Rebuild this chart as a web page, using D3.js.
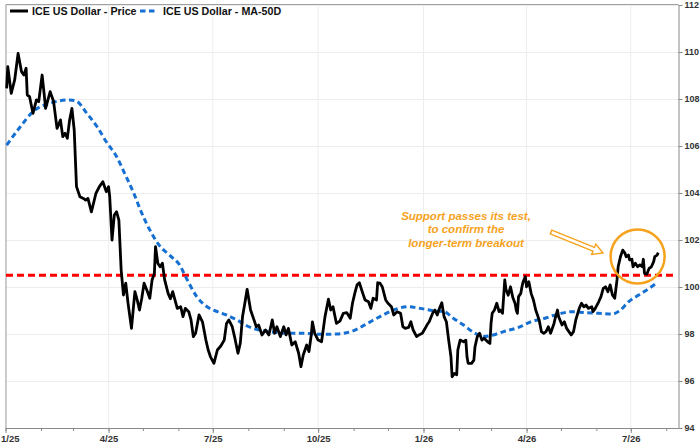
<!DOCTYPE html>
<html><head><meta charset="utf-8">
<script src="https://cdn.jsdelivr.net/npm/d3@7"></script>
<style>body{margin:0;background:#fff}svg{display:block;font-family:"Liberation Sans",Arial,sans-serif}</style>
</head><body><svg id="c" width="700" height="444"></svg>
<script>
const priceDates=["2025-01-02","2025-01-03","2025-01-06","2025-01-09","2025-01-12","2025-01-15","2025-01-17","2025-01-19","2025-01-20","2025-01-22","2025-01-25","2025-01-28","2025-01-30","2025-02-02","2025-02-04","2025-02-05","2025-02-09","2025-02-12","2025-02-15","2025-02-18","2025-02-20","2025-02-22","2025-02-24","2025-02-26","2025-02-28","2025-03-02","2025-03-04","2025-03-07","2025-03-10","2025-03-12","2025-03-14","2025-03-17","2025-03-21","2025-03-24","2025-03-27","2025-03-30","2025-04-01","2025-04-02","2025-04-04","2025-04-06","2025-04-08","2025-04-10","2025-04-12","2025-04-14","2025-04-16","2025-04-18","2025-04-21","2025-04-24","2025-04-26","2025-04-28","2025-04-30","2025-05-02","2025-05-05","2025-05-07","2025-05-09","2025-05-11","2025-05-12","2025-05-14","2025-05-16","2025-05-18","2025-05-20","2025-05-23","2025-05-25","2025-05-27","2025-05-31","2025-06-03","2025-06-05","2025-06-07","2025-06-10","2025-06-12","2025-06-14","2025-06-16","2025-06-19","2025-06-22","2025-06-25","2025-06-27","2025-06-29","2025-07-02","2025-07-05","2025-07-08","2025-07-11","2025-07-13","2025-07-15","2025-07-18","2025-07-20","2025-07-23","2025-07-25","2025-07-27","2025-07-29","2025-07-31","2025-08-03","2025-08-06","2025-08-08","2025-08-10","2025-08-13","2025-08-16","2025-08-19","2025-08-22","2025-08-24","2025-08-26","2025-08-29","2025-09-01","2025-09-03","2025-09-05","2025-09-08","2025-09-11","2025-09-14","2025-09-16","2025-09-18","2025-09-21","2025-09-23","2025-09-25","2025-09-26","2025-09-28","2025-10-01","2025-10-04","2025-10-07","2025-10-10","2025-10-12","2025-10-14","2025-10-17","2025-10-20","2025-10-23","2025-10-26","2025-10-29","2025-10-31","2025-11-02","2025-11-04","2025-11-06","2025-11-09","2025-11-11","2025-11-14","2025-11-16","2025-11-18","2025-11-21","2025-11-22","2025-11-24","2025-11-26","2025-11-29","2025-12-01","2025-12-04","2025-12-06","2025-12-09","2025-12-12","2025-12-14","2025-12-16","2025-12-19","2025-12-21","2025-12-23","2025-12-26","2025-12-28","2025-12-31","2026-01-02","2026-01-04","2026-01-06","2026-01-09","2026-01-11","2026-01-13","2026-01-15","2026-01-17","2026-01-19","2026-01-21","2026-01-23","2026-01-25","2026-01-26","2026-01-28","2026-01-30","2026-01-31","2026-02-02","2026-02-05","2026-02-07","2026-02-08","2026-02-09","2026-02-12","2026-02-14","2026-02-15","2026-02-17","2026-02-19","2026-02-21","2026-02-23","2026-02-26","2026-02-28","2026-03-01","2026-03-02","2026-03-04","2026-03-06","2026-03-08","2026-03-09","2026-03-11","2026-03-13","2026-03-14","2026-03-16","2026-03-18","2026-03-20","2026-03-22","2026-03-23","2026-03-24","2026-03-25","2026-03-27","2026-03-28","2026-03-29","2026-03-31","2026-04-01","2026-04-03","2026-04-05","2026-04-07","2026-04-09","2026-04-12","2026-04-14","2026-04-16","2026-04-18","2026-04-20","2026-04-22","2026-04-25","2026-04-26","2026-04-28","2026-04-29","2026-05-02","2026-05-04","2026-05-06","2026-05-08","2026-05-10","2026-05-12","2026-05-14","2026-05-17","2026-05-19","2026-05-21","2026-05-23","2026-05-25","2026-05-28","2026-05-29","2026-05-31","2026-06-03","2026-06-05","2026-06-07","2026-06-09","2026-06-11","2026-06-13","2026-06-15","2026-06-17","2026-06-19","2026-06-20","2026-06-22","2026-06-24","2026-06-26","2026-06-27","2026-06-29","2026-06-30","2026-07-02","2026-07-03","2026-07-05","2026-07-07","2026-07-09","2026-07-11","2026-07-12","2026-07-13","2026-07-15","2026-07-17","2026-07-19","2026-07-21","2026-07-22","2026-07-24","2026-07-25"];
const priceValues=[108.45,109.38,108.24,108.81,109.94,109.16,109.02,109.31,108.17,108.10,107.39,107.96,107.89,109.02,108.10,107.60,108.31,107.89,106.75,107.11,106.40,106.54,106.33,107.11,107.60,106.68,104.27,103.84,103.77,103.70,103.77,103.20,103.99,104.27,104.48,104.06,104.27,103.84,102.00,103.06,103.20,102.85,100.72,99.66,100.16,99.31,98.24,99.80,99.45,99.02,99.52,100.16,99.80,99.52,100.30,100.58,101.72,101.01,100.86,101.01,100.30,99.73,99.50,99.80,99.09,99.16,98.74,99.09,98.95,98.60,97.89,98.03,98.81,98.52,97.74,97.32,97.03,96.75,97.32,97.49,97.74,98.45,98.60,98.31,97.89,97.18,97.60,98.74,99.31,99.90,99.02,98.60,98.31,98.38,97.96,98.17,97.96,98.60,98.03,98.31,97.89,98.31,97.96,98.24,97.53,97.67,97.18,96.61,97.11,97.53,97.25,97.96,98.52,98.03,97.74,97.67,98.74,99.48,99.02,99.16,98.45,98.55,98.88,98.91,98.67,99.31,99.73,100.09,100.18,99.73,99.45,99.37,99.09,99.52,99.45,100.18,100.16,100.01,99.45,99.31,99.16,98.81,98.95,98.88,98.31,98.24,98.28,98.52,98.17,97.89,97.96,98.03,98.20,98.38,98.52,98.88,99.02,98.81,99.09,99.33,98.74,98.52,97.74,97.03,96.18,96.32,96.26,97.32,97.74,97.67,97.74,97.03,96.75,96.75,96.89,97.46,97.89,98.03,97.74,97.82,97.67,97.60,98.45,98.88,99.02,99.31,98.95,99.02,98.88,100.30,99.90,99.65,100.01,99.55,99.30,99.02,98.88,99.59,99.73,100.01,100.22,100.44,100.01,100.22,99.73,99.45,99.02,98.60,98.10,98.03,98.10,98.31,98.03,98.45,98.67,99.02,98.74,98.38,98.52,98.24,98.10,97.96,98.10,98.60,99.09,99.31,99.16,99.23,99.09,99.16,98.95,99.09,99.37,99.59,99.94,100.01,99.80,100.09,99.66,99.52,100.30,100.86,101.29,101.57,101.43,101.29,101.36,101.15,101.18,100.86,101.01,100.86,100.94,100.86,101.18,100.58,100.54,100.79,100.86,101.08,101.29,101.36,101.46];
const maDates=["2025-01-02","2025-01-14","2025-01-25","2025-02-09","2025-02-26","2025-03-04","2025-03-13","2025-03-22","2025-03-30","2025-04-08","2025-04-15","2025-04-23","2025-04-30","2025-05-07","2025-05-15","2025-05-22","2025-05-29","2025-06-01","2025-06-08","2025-06-17","2025-06-26","2025-07-05","2025-07-13","2025-07-22","2025-07-31","2025-08-08","2025-08-20","2025-09-04","2025-09-18","2025-10-03","2025-10-17","2025-11-01","2025-11-13","2025-11-24","2025-12-06","2025-12-18","2025-12-29","2026-01-10","2026-01-19","2026-01-27","2026-02-05","2026-02-14","2026-02-23","2026-03-03","2026-03-12","2026-03-25","2026-04-05","2026-04-17","2026-04-29","2026-05-11","2026-05-22","2026-06-03","2026-06-15","2026-06-22","2026-06-29","2026-07-08","2026-07-17","2026-07-24"];
const maValues=[106.04,106.82,107.46,107.82,107.96,107.91,107.39,106.82,106.18,105.55,104.84,103.99,103.14,102.43,101.79,101.45,101.15,101.01,100.37,99.59,99.16,98.95,98.81,98.60,98.34,98.20,98.10,98.03,98.03,97.99,98.00,98.14,98.45,98.74,99.02,99.16,99.09,98.99,98.95,98.67,98.38,98.06,97.89,97.96,98.10,98.28,98.52,98.67,98.85,98.95,98.91,98.88,98.85,99.02,99.37,99.66,99.94,100.18];
const yTickValues=[94,96,98,100,102,104,106,108,110,112];
const xTickDates=["2025-01-01","2025-04-01","2025-07-01","2025-10-01","2026-01-01","2026-04-01","2026-07-01"];
const xTickLabels=["1/25","4/25","7/25","10/25","1/26","4/26","7/26"];
const supportLevel=100.5;
const seriesNames=["ICE US Dollar - Price","ICE US Dollar - MA-50D"];
const noteLines=["Support passes its test,","to confirm the","longer-term breakout"];
const focusPoint={date:"2026-07-07",value:101.3};

const parse=d3.utcParse("%Y-%m-%d");
const svg=d3.select("#c");
const L=6,R=680,AX=678.5,T=5,B=428;
const x=d3.scaleUtc().domain([parse("2025-01-01"),parse("2026-08-13")]).range([5.5,R]);
const y=d3.scaleLinear().domain([94,112]).range([B,T]);
const ORANGE="#f6a21c", BLUE="#1670d2";

// gridlines
svg.append("g").selectAll("line").data(yTickValues).join("line")
  .attr("x1",L).attr("x2",AX).attr("y1",d=>y(d)+0.5).attr("y2",d=>y(d)+0.5)
  .attr("stroke","#ededed").attr("stroke-width",1);
svg.append("g").selectAll("line").data(xTickDates).join("line")
  .attr("x1",d=>x(parse(d))).attr("x2",d=>x(parse(d))).attr("y1",T).attr("y2",B)
  .attr("stroke","#ededed").attr("stroke-width",1);

// frame
svg.append("line").attr("x1",L).attr("x2",AX).attr("y1",4.5).attr("y2",4.5).attr("stroke","#a0a0a0");
svg.append("line").attr("x1",L).attr("x2",L).attr("y1",4.5).attr("y2",B).attr("stroke","#a0a0a0");

// axes
const yAxis=svg.append("g").attr("transform",`translate(${AX},0)`)
  .call(d3.axisRight(y).tickValues(yTickValues).tickFormat(d3.format("d")).tickSize(4).tickSizeOuter(0).tickPadding(2));
yAxis.select(".domain").attr("stroke","#8a8a8a");
yAxis.selectAll(".tick line").attr("stroke","#8a8a8a");
yAxis.selectAll("text").attr("font-size",9).attr("font-weight","bold").attr("fill","#333").attr("font-family","Liberation Sans, Arial, sans-serif");

const minor=svg.append("g").attr("transform",`translate(0,${B})`)
  .call(d3.axisBottom(x).tickValues(d3.utcMonth.range(parse("2025-01-01"),parse("2026-08-13"))).tickFormat("").tickSize(3).tickSizeOuter(0));
minor.select(".domain").attr("stroke","#8a8a8a").attr("d",`M${L},0.5H${AX}`);
minor.selectAll(".tick line").attr("stroke","#8a8a8a");
const xAxis=svg.append("g").attr("transform",`translate(0,${B})`)
  .call(d3.axisBottom(x).tickValues(xTickDates.map(parse)).tickFormat((d,i)=>xTickLabels[i]).tickSize(5).tickSizeOuter(0).tickPadding(2));
xAxis.select(".domain").remove();
xAxis.selectAll(".tick line").attr("stroke","#8a8a8a");
xAxis.selectAll("text").attr("font-size",9.5).attr("font-weight","bold").attr("fill","#333").attr("font-family","Liberation Sans, Arial, sans-serif");
xAxis.select(".tick text").attr("text-anchor","start").attr("dx",-5);

// support line
svg.append("line").attr("x1",L).attr("x2",AX-2).attr("y1",y(supportLevel)).attr("y2",y(supportLevel))
  .attr("stroke","#ff0000").attr("stroke-width",3).attr("stroke-dasharray","7,4");

// MA
const ma=maDates.map((d,i)=>({d:parse(d),v:maValues[i]}));
svg.append("path").datum(ma).attr("fill","none").attr("stroke",BLUE).attr("stroke-width",3)
  .attr("stroke-dasharray","5.5,3.5")
  .attr("d",d3.line().x(p=>x(p.d)).y(p=>y(p.v)).curve(d3.curveMonotoneX));

// price
const price=priceDates.map((d,i)=>({d:parse(d),v:priceValues[i]}));
svg.append("path").datum(price).attr("fill","none").attr("stroke","#000").attr("stroke-width",2.8)
  .attr("stroke-linejoin","round")
  .attr("d",d3.line().x(p=>x(p.d)).y(p=>y(p.v)));

// circle
const cx=x(parse(focusPoint.date)), cy=y(focusPoint.value);
svg.append("circle").attr("cx",cx).attr("cy",cy).attr("r",27).attr("fill","none").attr("stroke",ORANGE).attr("stroke-width",2.5);

// annotation text
const note=svg.append("text").attr("text-anchor","middle").attr("font-size",11.5).attr("font-weight","bold")
  .attr("font-style","italic").attr("fill",ORANGE);
noteLines.forEach((t,i)=>note.append("tspan").attr("x",466).attr("y",220+i*13.3).text(t));

// hollow arrow
const ax0=551,ay0=232,ax1=603,ay1=253;
const ang=Math.atan2(ay1-ay0,ax1-ax0)*180/Math.PI, len=Math.hypot(ax1-ax0,ay1-ay0);
const hl=10,sw=2,hw=5.5;
svg.append("polygon").attr("transform",`translate(${ax0},${ay0}) rotate(${ang})`)
  .attr("points",[[0,-sw],[len-hl,-sw],[len-hl,-hw],[len,0],[len-hl,hw],[len-hl,sw],[0,sw]].map(p=>p.join(",")).join(" "))
  .attr("fill","#fff").attr("stroke",ORANGE).attr("stroke-width",1.4).attr("stroke-linejoin","miter");

// legend
const lg=svg.append("g");
lg.append("line").attr("x1",10).attr("x2",28).attr("y1",11).attr("y2",11).attr("stroke","#000").attr("stroke-width",3);
lg.append("text").attr("x",32).attr("y",15).attr("font-size",10.7).attr("font-weight","bold").attr("fill","#111").text(seriesNames[0]);
lg.append("line").attr("x1",140).attr("x2",158).attr("y1",11).attr("y2",11).attr("stroke",BLUE).attr("stroke-width",3).attr("stroke-dasharray","5.5,3.5");
lg.append("text").attr("x",163).attr("y",15).attr("font-size",10.7).attr("font-weight","bold").attr("fill","#111").text(seriesNames[1]);
</script></body></html>
